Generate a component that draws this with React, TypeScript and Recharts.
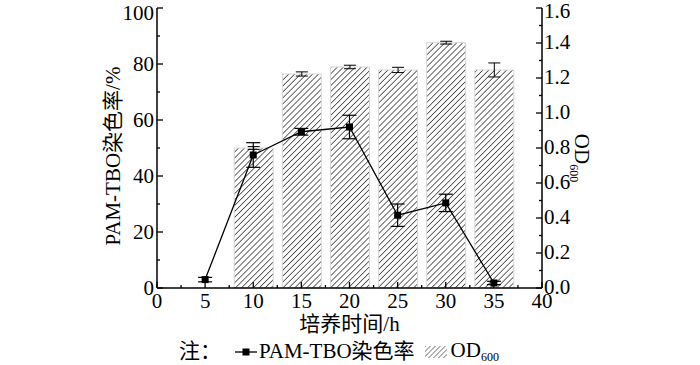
import { ComposedChart, Bar, Line, XAxis, YAxis, ErrorBar } from 'recharts';

const hours = [5, 10, 15, 20, 25, 30, 35];
const dyeRate = [3.0, 47.5, 55.8, 57.5, 26.0, 30.4, 1.8];
const dyeRateErr = [0.8, 4.4, 1.2, 4.2, 4.0, 3.1, 0.6];
const od600 = [null, 0.8, 1.223, 1.263, 1.246, 1.402, 1.246];
const od600Err = [null, 0.008, 0.012, 0.01, 0.015, 0.008, 0.04];

const xTicks = [0, 2.5, 5, 7.5, 10, 12.5, 15, 17.5, 20, 22.5, 25, 27.5, 30, 32.5, 35, 37.5, 40];
const leftTicks = [0, 10, 20, 30, 40, 50, 60, 70, 80, 90, 100];
const rightTicks = [0, 0.1, 0.2, 0.3, 0.4, 0.5, 0.6, 0.7, 0.8, 0.9, 1.0, 1.1, 1.2, 1.3, 1.4, 1.5, 1.6];

const data = hours.map((t, i) => ({
  t,
  rate: dyeRate[i],
  rateErr: dyeRateErr[i],
  od: od600[i],
  odErr: od600Err[i],
}));

const serif = '"Liberation Serif", "Times New Roman", "Noto Sans CJK SC", serif';
const FS = 21;

const XTick = (props: any) => {
  const { x, y, payload } = props;
  const major = payload.value % 5 === 0;
  return (
    <g>
      <line x1={x} y1={y} x2={x} y2={y - (major ? 6 : 3)} stroke="#000" strokeWidth={1.3} />
      {major && (
        <text x={x} y={y + 20} textAnchor="middle" fontSize={FS} fontFamily={serif} fill="#000">
          {payload.value}
        </text>
      )}
    </g>
  );
};

const LeftTick = (props: any) => {
  const { x, y, payload } = props;
  const major = payload.value % 20 === 0;
  return (
    <g>
      <line x1={x} y1={y} x2={x + (major ? 6 : 3)} y2={y} stroke="#000" strokeWidth={1.3} />
      {major && (
        <text x={x - 3} y={Math.max(y + 7, 20)} textAnchor="end" fontSize={FS} fontFamily={serif} fill="#000">
          {payload.value}
        </text>
      )}
    </g>
  );
};

const RightTick = (props: any) => {
  const { x, y, payload } = props;
  const major = Math.round(payload.value * 10) % 2 === 0;
  return (
    <g>
      <line x1={x} y1={y} x2={x - (major ? 6 : 3)} y2={y} stroke="#000" strokeWidth={1.3} />
      {major && (
        <text x={x + 2} y={Math.max(y + 6, 18)} textAnchor="start" fontSize={FS} fontFamily={serif} fill="#000">
          {payload.value.toFixed(1)}
        </text>
      )}
    </g>
  );
};

const SquareDot = (props: any) => {
  const { cx, cy } = props;
  if (cx == null || cy == null) return null;
  return <rect x={cx - 3.5} y={cy - 3.5} width={7} height={7} fill="#000" />;
};

export default function App() {
  return (
    <div style={{ position: 'absolute', left: 0, top: 0, width: 700, height: 365, background: '#fff', overflow: 'hidden' }}>
      <ComposedChart
        width={700}
        height={365}
        data={data}
        margin={{ top: 8, right: 98, left: 97, bottom: 47 }}
      >
        <defs>
          <pattern id="hatch" width="4.2" height="4.2" patternUnits="userSpaceOnUse" patternTransform="rotate(45)">
            <rect width="4.2" height="4.2" fill="#fff" />
            <line x1="0" y1="0" x2="0" y2="4.2" stroke="#333" strokeWidth="1.5" />
          </pattern>
        </defs>
        <XAxis
          dataKey="t"
          type="number"
          domain={[0, 40]}
          ticks={xTicks}
          interval={0}
          height={30}
          tickSize={0}
          tickMargin={0}
          tick={<XTick />}
          axisLine={{ stroke: '#000', strokeWidth: 1.5 }}
          label={(props: any) => {
            const { viewBox } = props;
            return (
              <text
                x={viewBox.x + viewBox.width / 2}
                y={viewBox.y + 43}
                textAnchor="middle"
                fontSize={FS}
                fontFamily={serif}
                fill="#000"
              >
                培养时间/h
              </text>
            );
          }}
        />
        <YAxis
          yAxisId="rate"
          domain={[0, 100]}
          ticks={leftTicks}
          interval={0}
          width={60}
          tickSize={0}
          tickMargin={0}
          tick={<LeftTick />}
          axisLine={{ stroke: '#000', strokeWidth: 1.5 }}
          label={(props: any) => {
            const { viewBox } = props;
            const cx = viewBox.x + 23;
            const cy = viewBox.y + viewBox.height / 2 + 8;
            return (
              <text
                x={cx}
                y={cy}
                transform={`rotate(-90 ${cx} ${cy})`}
                textAnchor="middle"
                fontSize={FS}
                fontFamily={serif}
                fill="#000"
              >
                PAM-TBO染色率/%
              </text>
            );
          }}
        />
        <YAxis
          yAxisId="od"
          orientation="right"
          domain={[0, 1.6]}
          ticks={rightTicks}
          interval={0}
          width={60}
          tickSize={0}
          tickMargin={0}
          tick={<RightTick />}
          axisLine={{ stroke: '#000', strokeWidth: 1.5 }}
          label={(props: any) => {
            const { viewBox } = props;
            const cx = viewBox.x + 33;
            const cy = viewBox.y + viewBox.height / 2 + 10;
            return (
              <text
                x={cx}
                y={cy}
                transform={`rotate(90 ${cx} ${cy})`}
                textAnchor="middle"
                fontSize={FS}
                fontFamily={serif}
                fill="#000"
              >
                OD<tspan fontSize={12} dy={5}>600</tspan>
              </text>
            );
          }}
        />
        <Bar
          yAxisId="od"
          dataKey="od"
          barSize={39}
          fill="url(#hatch)"
          stroke="#d8d8d8"
          strokeWidth={1}
          isAnimationActive={false}
        >
          <ErrorBar dataKey="odErr" width={6} stroke="#000" strokeWidth={1} direction="y" />
        </Bar>
        <Line
          yAxisId="rate"
          dataKey="rate"
          stroke="#000"
          strokeWidth={1.3}
          dot={<SquareDot />}
          activeDot={false}
          isAnimationActive={false}
        >
          <ErrorBar dataKey="rateErr" width={7} stroke="#000" strokeWidth={1.2} direction="y" />
        </Line>
      </ComposedChart>
      <div
        style={{
          position: 'absolute',
          left: 179,
          top: 340,
          height: 23,
          lineHeight: '23px',
          display: 'flex',
          alignItems: 'center',
          fontFamily: serif,
          fontSize: FS,
          color: '#000',
          whiteSpace: 'nowrap',
        }}
      >
        <span style={{ marginRight: 14 }}>注：</span>
        <svg width={22} height={12} style={{ marginRight: 2 }}>
          <line x1={0} y1={6} x2={22} y2={6} stroke="#000" strokeWidth={1.3} />
          <rect x={7.5} y={2.5} width={7} height={7} fill="#000" />
        </svg>
        <span>PAM-TBO染色率</span>
        <svg width={22} height={12} style={{ marginLeft: 10, marginRight: 4 }}>
          <defs>
            <pattern id="hatchLegend" width="3.5" height="3.5" patternUnits="userSpaceOnUse" patternTransform="rotate(45)">
              <line x1="0" y1="0" x2="0" y2="3.5" stroke="#444" strokeWidth="1.2" />
            </pattern>
          </defs>
          <rect x={0} y={0} width={22} height={12} fill="url(#hatchLegend)" />
        </svg>
        <span style={{ color: '#000' }}>
          OD<span style={{ fontSize: 12, color: '#000', position: 'relative', top: 4 }}>600</span>
        </span>
      </div>
    </div>
  );
}
